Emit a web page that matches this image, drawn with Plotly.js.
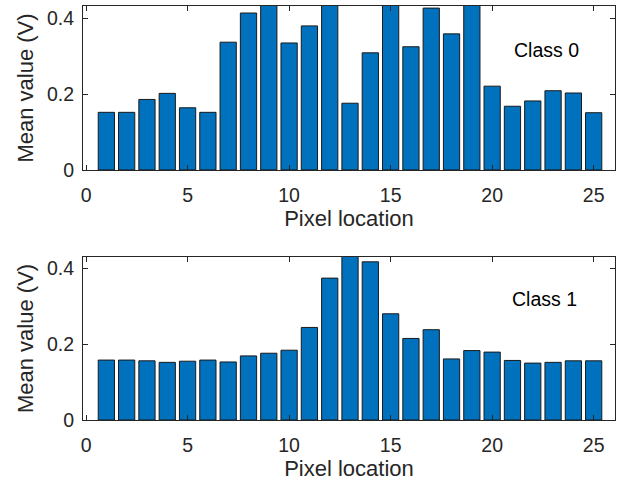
<!DOCTYPE html>
<html>
<head>
<meta charset="utf-8">
<script src="https://cdn.plot.ly/plotly-3.0.1.min.js"></script>
<style>html,body{margin:0;padding:0;background:#fff}#chart{width:624px;height:481px}</style>
</head>
<body>
<div id="chart"></div>
<script>
const pixelLocation = [1,2,3,4,5,6,7,8,9,10,11,12,13,14,15,16,17,18,19,20,21,22,23,24,25];
const class0Mean = [0.152,0.152,0.186,0.202,0.164,0.152,0.337,0.414,0.45,0.335,0.380,0.45,0.176,0.309,0.44,0.325,0.427,0.359,0.44,0.221,0.168,0.182,0.209,0.203,0.151];
const class1Mean = [0.158,0.158,0.156,0.152,0.155,0.158,0.153,0.169,0.176,0.184,0.244,0.374,0.45,0.417,0.280,0.215,0.238,0.161,0.183,0.179,0.157,0.150,0.152,0.156,0.156];
const xTickVals = [0,5,10,15,20,25];
const yTickVals = [0,0.2,0.4];
const xTitle = 'Pixel location';
const yTitle = 'Mean value (V)';
const classLabels = ['Class 0','Class 1'];

const fontFam = 'Liberation Sans, Arial, Helvetica, sans-serif';
const ink = '#262626';

function bar(y, xa, ya) {
  return {type:'bar', x:pixelLocation, y:y, xaxis:xa, yaxis:ya, width:0.8,
    marker:{color:'#0072BD', line:{color:'#1a1a1a', width:1}}, hoverinfo:'skip'};
}
function xax(domainAnchor) {
  return {range:[-0.15,26.05], tickvals:xTickVals, ticks:'inside', ticklen:5, tickwidth:1, tickcolor:ink,
    showline:true, linecolor:ink, linewidth:1, mirror:'ticks', showgrid:false, zeroline:false,
    anchor:domainAnchor, tickfont:{size:19.5, color:ink, family:fontFam}, ticklabelstandoff:8,
    title:{text:xTitle, font:{size:22, color:ink, family:fontFam}, standoff:2}};
}
function yax(domain, top, anchor) {
  return {domain:domain, range:[0,top], tickvals:yTickVals, ticktext:['0','0.2','0.4'], ticks:'inside', ticklen:5, tickwidth:1, tickcolor:ink,
    showline:true, linecolor:ink, linewidth:1, mirror:'ticks', showgrid:false, zeroline:false, anchor:anchor,
    tickfont:{size:19.5, color:ink, family:fontFam}, ticklabelstandoff:4,
    title:{text:yTitle, font:{size:22, color:ink, family:fontFam}, standoff:7}};
}
const layout = {
  width:624, height:481, showlegend:false, bargap:0,
  paper_bgcolor:'#fff', plot_bgcolor:'#fff',
  margin:{l:83, r:9, t:6, b:61},
  font:{family:fontFam, color:ink},
  xaxis: xax('y'),
  yaxis: yax([0.604,1], 0.4325, 'x'),
  xaxis2: xax('y2'),
  yaxis2: yax([0,0.394], 0.43, 'x2'),
  annotations:[
    {xref:'x', yref:'y', x:22.7, y:0.316, text:classLabels[0], showarrow:false, font:{size:19.5, color:'#000', family:fontFam}},
    {xref:'x2', yref:'y2', x:22.6, y:0.319, text:classLabels[1], showarrow:false, font:{size:19.5, color:'#000', family:fontFam}}
  ]
};
Plotly.newPlot('chart', [bar(class0Mean,'x','y'), bar(class1Mean,'x2','y2')], layout, {staticPlot:true, displayModeBar:false});
</script>
</body>
</html>
